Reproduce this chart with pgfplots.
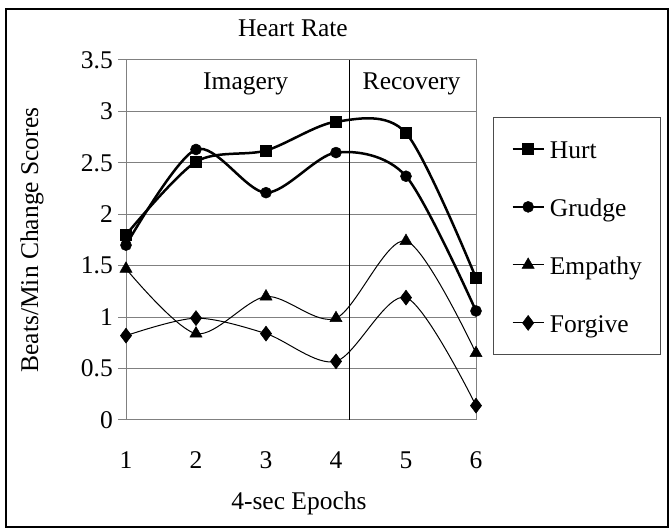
\documentclass[border=0pt]{standalone}
\usepackage{fontspec}
\setmainfont{Liberation Serif}
\usepackage{pgfplots}
\pgfplotsset{compat=1.18}
\begin{document}
\fontsize{25.5}{30}\selectfont
\begin{tikzpicture}[x=1pt,y=1pt]
\useasboundingbox (0,0) rectangle (670,529);
\draw[line width=1.5pt] (6,520) rectangle (668,2);
\begin{axis}[
  at={(126pt,109pt)}, anchor=south west,
  scale only axis, width=350pt, height=360pt,
  xmin=1, xmax=6, ymin=0, ymax=3.5,
  xtick={1,2,3,4,5,6},
  ytick={0,0.5,1,1.5,2,2.5,3,3.5},
  /pgf/number format/assume math mode=true,
  tick label style={font=\fontsize{25.5}{30}\selectfont},
  label style={font=\fontsize{25.5}{30}\selectfont},
  major tick length=0pt,
  tick style={draw=none},
  axis line style={black!50, line width=1pt},
  ymajorgrids=true,
  grid style={black!50, line width=1pt},
  yticklabel style={inner sep=0pt, anchor=east, xshift=-13pt},
  xticklabel style={inner sep=0pt, anchor=north, yshift=-31.5pt},
  xlabel={4-sec Epochs},
  xlabel style={at={(axis description cs:0.494,-0.2306)}, anchor=center},
  ylabel={Beats/Min Change Scores},
  ylabel style={at={(axis description cs:-0.2686,0.5)}, anchor=center, rotate=0},
  title={Heart Rate},
  title style={at={(axis description cs:0.477,1.072)}, anchor=center, font=\fontsize{25.5}{30}\selectfont},
  clip=false,
  legend style={at={(axis description cs:1.0486,0.8417)}, anchor=north west,
    draw=black!70, line width=0.8pt, inner xsep=18pt, inner ysep=20pt,
    font=\fontsize{25.5}{30}\selectfont,
    nodes={inner sep=0pt, text height=21pt, text depth=2pt},
    row sep=35pt, column sep=5pt},
  legend cell align=left,
  legend image code/.code={\draw[mark repeat=2,mark phase=2,#1] plot coordinates {(0pt,0pt) (15.5pt,0pt) (31pt,0pt)};},
]
\foreach \yy in {0,0.5,1,1.5,2,2.5,3,3.5} {
  \edef\tmp{\noexpand\draw[black!50, line width=1pt] (axis cs:1,\yy) -- ++(-8pt,0pt);}
  \tmp
}
\draw[black, line width=1pt] (axis cs:4.19,0) -- (axis cs:4.19,3.5);
\node at (axis cs:2.71,3.27) {Imagery};
\node at (axis cs:5.08,3.27) {Recovery};

\addplot[black, line width=2.5pt, smooth, tension=0.5, mark=square*, mark size=5.5pt, mark options={solid, line width=0.5pt}]
  coordinates {(1,1.80) (2,2.51) (3,2.62) (4,2.90) (5,2.79) (6,1.38)};
\addlegendentry{Hurt}
\addplot[black, line width=2.5pt, smooth, tension=0.5, mark=*, mark size=5.5pt, mark options={solid, line width=0.5pt}]
  coordinates {(1,1.70) (2,2.63) (3,2.21) (4,2.60) (5,2.37) (6,1.06)};
\addlegendentry{Grudge}
\addplot[black, line width=1pt, smooth, tension=0.5, mark=triangle*, mark size=7pt, mark options={solid, line width=0.5pt}]
  coordinates {(1,1.47) (2,0.84) (3,1.20) (4,0.99) (5,1.74) (6,0.65)};
\addlegendentry{Empathy}
\addplot[black, line width=1pt, smooth, tension=0.5, mark=diamond*, mark size=7.5pt, mark options={solid, line width=0.5pt}]
  coordinates {(1,0.82) (2,0.99) (3,0.84) (4,0.57) (5,1.19) (6,0.14)};
\addlegendentry{Forgive}
\end{axis}
\end{tikzpicture}
\end{document}
